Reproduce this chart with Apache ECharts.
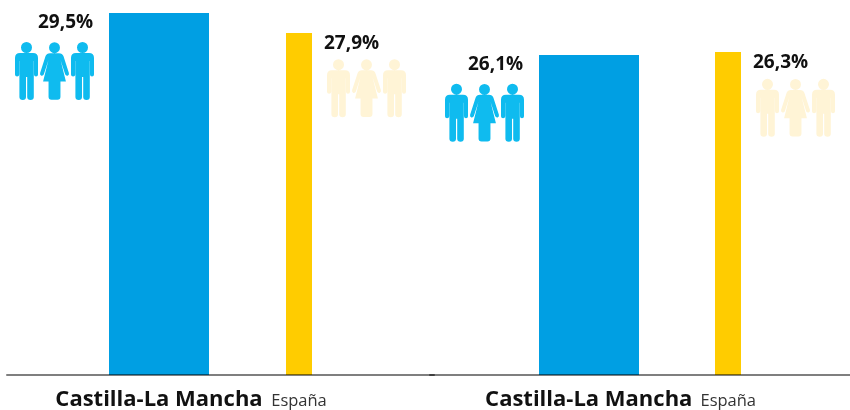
<!DOCTYPE html>
<html><head><meta charset="utf-8"><style>html,body{margin:0;background:#fff}#c{width:850px;height:410px}</style>
<script src="https://cdn.jsdelivr.net/npm/echarts@6/dist/echarts.min.js"></script></head>
<body><div id="c"></div><script>
const categories = ['Castilla-La Mancha', 'España'];
const valuesLeft = [29.5, 27.9];
const valuesRight = [26.1, 26.3];
const tickLabel = v => v.toFixed(1).replace('.', ',') + '%';

const MAN = 'M6,5.5a5.5,5.5 0 1,0 11,0a5.5,5.5 0 1,0 -11,0Z M5,11H18Q23,11 23,16V32.5Q23,34.5 21,34.5Q19,34.5 19,32.5V19H18.8V55Q18.8,58 15.6,58Q12.2,58 12.2,55V35H11V55Q11,58 7.8,58Q4.4,58 4.4,55V19H4.2V32.5Q4.2,34.5 2.1,34.5Q0,34.5 0,32.5V16Q0,11 5,11Z';
const WOMAN = 'M9,5.5a5.5,5.5 0 1,0 11,0a5.5,5.5 0 1,0 -11,0Z M10,11H19Q22.5,11 23.5,14L29,31Q29.5,33.2 27.7,33.8Q26,34.2 25.2,32.4L20.6,18L26,39.5H20.5V55Q20.5,58 17.5,58H11.5Q8.5,58 8.5,55V39.5H3L8.4,18L3.8,32.4Q3,34.2 1.3,33.8Q-0.5,33.2 0,31L5.5,14Q6.5,11 10,11Z';

const style = [
  {width:100, fill:'#009FE3', icon:'#0FBBEF', iconX:-94, labelX:-71, iconY:29, labelY:9.5},
  {width:26,  fill:'#FFCC00', icon:'#FFF4D6', iconX:41,  labelX:38,  iconY:26.5, labelY:10.5}
];

function renderItem(params, api) {
  const i = api.value(0), v = api.value(1);
  const top = api.coord([i, v]), base = api.coord([i, 0]);
  const s = style[i];
  const left = Math.round(top[0] - s.width / 2);
  const iy = top[1] + s.iconY;
  const person = (d, dx, w) => ({
    type:'path', shape:{pathData:d, x:left + s.iconX + dx, y:iy, width:w, height:58},
    style:{fill:s.icon}
  });
  return {type:'group', children:[
    {type:'rect', shape:{x:left, y:Math.round(top[1]), width:s.width, height:base[1]-Math.round(top[1])}, style:{fill:s.fill}},
    person(MAN, 0, 23), person(WOMAN, 25, 29), person(MAN, 56, 23),
    {type:'text', style:{text:tickLabel(v), x:left + s.labelX, y:top[1] + s.labelY,
      textVerticalAlign:'middle', textAlign:'left', fill:'#111',
      font:'bold 19px "Open Sans"'}}
  ]};
}

const catData = [
  {value:categories[0], textStyle:{fontFamily:'"Open Sans"', fontWeight:'bold', fontSize:22, color:'#111'}},
  {value:categories[1], textStyle:{fontFamily:'"Open Sans"', fontSize:16.5, color:'#333', padding:[4,0,0,0]}}
];
const dataAxis = gi => ({type:'category', gridIndex:gi, data:catData, axisLine:{show:false}, axisTick:{show:false},
  axisLabel:{margin:14, interval:0, verticalAlign:'middle', hideOverlap:false}});
const baseAxis = gi => ({type:'category', gridIndex:gi, data:[''], z:10, axisTick:{show:false}, axisLabel:{show:false},
  axisLine:{show:true, lineStyle:{color:'rgba(0,0,0,0.5)', width:2}}});
const valAxis = gi => ({type:'value', gridIndex:gi, min:0, max:29.5, show:false});

const chart = echarts.init(document.getElementById('c'), null, {renderer:'canvas'});
chart.setOption({
  animation:false,
  backgroundColor:'#fff',
  grid:[
    {left:89, width:280, top:13, height:362, outerBoundsMode:'none'},
    {left:519, width:279, top:13, height:362, outerBoundsMode:'none'},
    {left:7, width:427, top:13, height:362, outerBoundsMode:'none'},
    {left:430, width:420, top:13, height:362, outerBoundsMode:'none'}
  ],
  xAxis:[dataAxis(0), dataAxis(1), baseAxis(2), baseAxis(3)],
  yAxis:[valAxis(0), valAxis(1), valAxis(2), valAxis(3)],
  series:[
    {type:'custom', xAxisIndex:0, yAxisIndex:0, renderItem, data:valuesLeft.map((v,i)=>[i,v]), encode:{x:0,y:1}, clip:false},
    {type:'custom', xAxisIndex:1, yAxisIndex:1, renderItem, data:valuesRight.map((v,i)=>[i,v]), encode:{x:0,y:1}, clip:false}
  ]
});
</script></body></html>
